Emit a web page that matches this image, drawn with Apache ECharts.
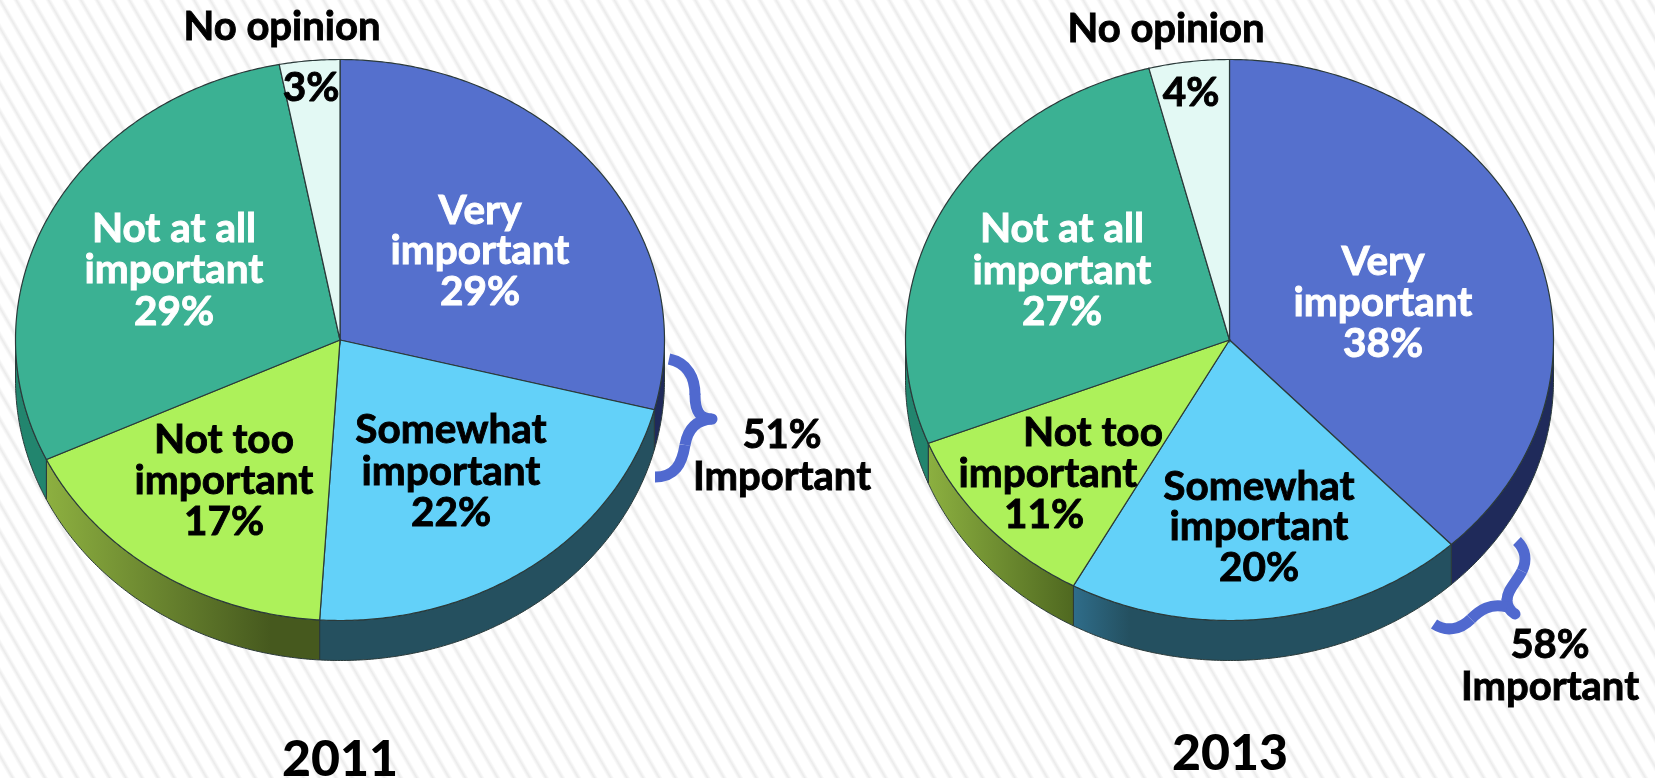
<!DOCTYPE html>
<html>
<head>
<meta charset="utf-8">
<style>
html,body{margin:0;padding:0;width:1655px;height:778px;overflow:hidden;
background:repeating-linear-gradient(60deg,#ffffff 0,#ffffff 8px,#ebebeb 11px,#ffffff 14px);}
#c{width:1655px;height:778px;}
</style>
<script src="https://cdn.jsdelivr.net/npm/echarts@6/dist/echarts.min.js"></script>
</head>
<body>
<div id="c"></div>
<script>
// ---- data ----
var categories = ['Very important', 'Somewhat important', 'Not too important', 'Not at all important', 'No opinion'];
var values2011 = [29, 22, 17, 29, 3];
var values2013 = [38, 20, 11, 27, 4];
var years = ['2011', '2013'];
var groupTotals = ['51%', '58%'];
var groupName = 'Important';
var sideLabel = 'No opinion';

// ---- style and layout (not data) ----
var FONT = 'Lato';
var faceColors = ['#5570cd', '#63d1f9', '#adf15a', '#3bb193', '#e3f9f4'];
var DEPTH = 40;
var LINE = '#2b3a3a';
var grids = [
  {left: 15.5, top: 59.5, width: 649, height: 561},
  {left: 905.5, top: 59.5, width: 648, height: 561}
];
function hGrad(stops) {
  return new echarts.graphic.LinearGradient(0, 0, 1, 0, stops.map(function (s) {
    return {offset: s[0], color: s[1]};
  }));
}
var sideFills = [
  ['#1f2a5a', '#25505f', hGrad([[0, '#8db040'], [0.82, '#46591e'], [1, '#46591e']]), '#22856e', '#8fa8a2'],
  ['#1f2a5a', hGrad([[0, '#2f6d8a'], [0.15, '#245060'], [1, '#245060']]), hGrad([[0, '#8cb040'], [1, '#4f6820']]), '#22856e', '#8fa8a2']
];
var textColors = ['#ffffff', '#000000', '#000000', '#ffffff', '#000000'];
// centre of each text line, per slice, in page pixels
var linePos = [
  [
    [[480, 211], [480, 251], [480, 292]],
    [[451, 430], [451, 472], [451, 513]],
    [[224, 440], [224, 481], [224, 522]],
    [[174, 229], [174, 270], [174, 312]],
    [[311, 88]]
  ],
  [
    [[1383, 262], [1383, 303], [1383, 344]],
    [[1259, 487], [1259, 527], [1259, 568]],
    [[1093, 433], [1048, 474], [1044, 515]],
    [[1062, 229], [1062, 271], [1062, 312]],
    [[1191, 93]]
  ]
];
var lineBreaks = [['Very', 'important'], ['Somewhat', 'important'], ['Not too', 'important'], ['Not at all', 'important'], []];

function angleRange(values, i) {
  var total = values.reduce(function (a, b) { return a + b; }, 0), before = 0;
  for (var k = 0; k < i; k++) before += values[k];
  return [before / total * 360, (before + values[i]) / total * 360];
}
function rim(api, deg) {
  var r = deg * Math.PI / 180;
  return api.coord([Math.sin(r), Math.cos(r)]);
}
function topItem(values, p) {
  return function (params, api) {
    var i = params.dataIndex, a = angleRange(values, i);
    var pts = [api.coord([0, 0])];
    for (var d = a[0]; d < a[1]; d += 0.5) pts.push(rim(api, d));
    pts.push(rim(api, a[1]));
    var lines = lineBreaks[i].concat([api.value(1) + '%']);
    var children = [{
      type: 'polygon', shape: {points: pts},
      style: {fill: faceColors[i], stroke: LINE, lineWidth: 1.2}
    }];
    lines.forEach(function (t, n) {
      children.push({
        type: 'text', z2: 10,
        style: {
          text: t, x: linePos[p][i][n][0], y: linePos[p][i][n][1],
          align: 'center', verticalAlign: 'middle',
          font: '700 40.5px ' + FONT, fill: textColors[i],
          stroke: textColors[i], lineWidth: 0.9
        }
      });
    });
    return {type: 'group', children: children};
  };
}
function sideItem(values, p) {
  return function (params, api) {
    var i = params.dataIndex, a = angleRange(values, i);
    var s = Math.max(a[0], 90), e = Math.min(a[1], 270);
    if (s >= e) return null;
    var upper = [], lower = [];
    for (var d = s; d < e; d += 0.5) { upper.push(rim(api, d)); }
    upper.push(rim(api, e));
    upper.forEach(function (q) { lower.unshift([q[0], q[1] + DEPTH]); });
    return {
      type: 'polygon', shape: {points: upper.concat(lower)},
      style: {fill: sideFills[p][i], stroke: LINE, lineWidth: 1}
    };
  };
}
function toRows(values) { return values.map(function (v, i) { return [i, v]; }); }

var allValues = [values2011, values2013];
var series = [];
allValues.forEach(function (vals, p) {
  series.push({type: 'custom', name: years[p] + ' side', coordinateSystem: 'cartesian2d', xAxisIndex: p, yAxisIndex: p,
    z: 2, silent: true, data: toRows(vals), renderItem: sideItem(vals, p)});
  series.push({type: 'custom', name: years[p], coordinateSystem: 'cartesian2d', xAxisIndex: p, yAxisIndex: p,
    z: 3, silent: true, data: toRows(vals), renderItem: topItem(vals, p)});
});
function axis(idx) { return {type: 'value', gridIndex: idx, min: -1, max: 1, show: false}; }

var BRACE = '#5069cf';
function note(text, x, y) {
  return {type: 'text', x: x, y: y, style: {text: text, align: 'center', verticalAlign: 'middle', font: '700 40px ' + FONT, fill: '#000', stroke: '#000', lineWidth: 0.9}};
}
function curve(x1, y1, cpx1, cpy1, cpx2, cpy2, x2, y2, cap) {
  return {type: 'bezierCurve', shape: {x1: x1, y1: y1, cpx1: cpx1, cpy1: cpy1, cpx2: cpx2, cpy2: cpy2, x2: x2, y2: y2},
    style: {fill: 'none', stroke: BRACE, lineWidth: 11, lineCap: cap || 'butt'}};
}
var option = {
  animation: false,
  backgroundColor: 'transparent',
  title: [
    {text: years[0], left: 335, top: 755, textAlign: 'center', textVerticalAlign: 'middle',
      textStyle: {fontFamily: FONT, fontWeight: 900, fontSize: 50, color: '#000'}},
    {text: years[1], left: 1225, top: 749, textAlign: 'center', textVerticalAlign: 'middle',
      textStyle: {fontFamily: FONT, fontWeight: 900, fontSize: 50, color: '#000'}}
  ],
  grid: grids,
  xAxis: [axis(0), axis(1)],
  yAxis: [axis(0), axis(1)],
  series: series,
  graphic: [
    note(sideLabel, 282, 27),
    note(sideLabel, 1166, 29),
    note(groupTotals[0], 782, 435),
    note(groupName, 782, 477),
    note(groupTotals[1], 1550, 645),
    note(groupName, 1550, 687),
    curve(669, 359, 688, 363, 695, 378, 695, 395),
    curve(695, 395, 695, 410, 699, 419, 712, 419, 'round'),
    curve(712, 419, 697, 420, 688, 428, 685, 445),
    curve(685, 445, 682, 464, 675, 477, 655, 477),
    curve(1517, 541, 1526, 550, 1527, 561, 1522, 571),
    curve(1522, 571, 1516, 583, 1507, 590, 1507, 600),
    curve(1507, 600, 1507, 606, 1510, 611, 1515, 614, 'round'),
    curve(1507, 607, 1490, 603, 1480, 610, 1471, 619),
    curve(1471, 619, 1460, 630, 1446, 632, 1434, 624)
  ]
};
var chart = echarts.init(document.getElementById('c'), null, {renderer: 'canvas'});
chart.setOption(option);
</script>
</body>
</html>
